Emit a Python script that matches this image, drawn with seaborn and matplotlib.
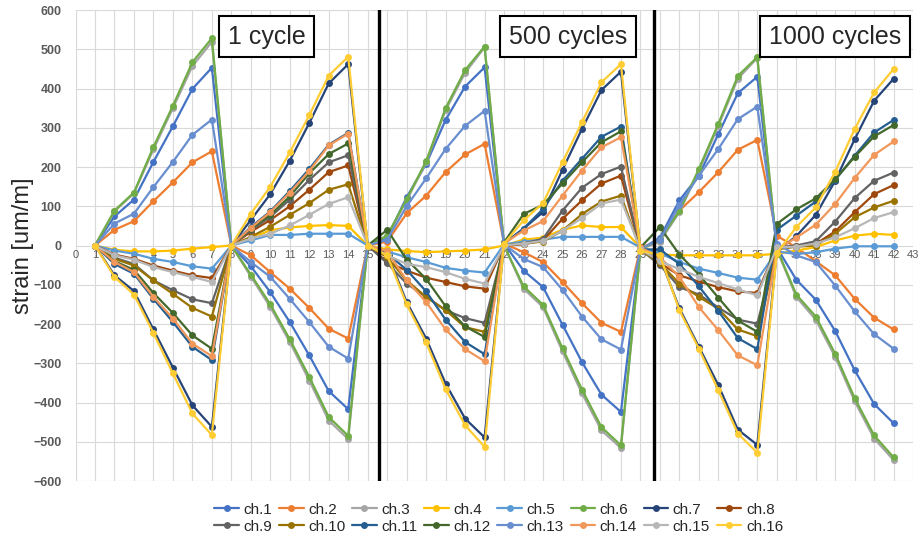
import numpy as np
import pandas as pd
import matplotlib
matplotlib.use("Agg")
import matplotlib.pyplot as plt
import seaborn as sns

# strain readings, one value per step 1..42 (three blocks: 1, 500, 1000 cycles)
steps = list(range(1, 43))

ch1 = [0, 74, 117, 213, 304, 399, 453, 0, -53, -119, -195, -280, -371, -417, 0,
       20, 123, 208, 320, 405, 454, 5, -64, -106, -202, -297, -380, -424, -10,
       20, 115, 178, 284, 388, 430, -5, -87, -138, -218, -318, -404, -453]
ch2 = [0, 40, 62, 113, 161, 212, 240, 0, -25, -68, -110, -159, -212, -237, 0,
       10, 82, 127, 187, 232, 259, 5, -17, -42, -93, -147, -197, -220, -5,
       12, 89, 136, 187, 244, 269, 25, -5, -40, -76, -136, -184, -214]
ch3 = [0, 87, 133, 245, 350, 457, 519, 0, -79, -157, -246, -344, -446, -493, 0,
       25, 115, 212, 345, 440, 505, 0, -110, -157, -270, -377, -471, -516, -10,
       10, 85, 190, 305, 425, 478, -10, -131, -189, -284, -397, -492, -547]
ch4 = [0, -11, -15, -15, -13, -8, -4, 0, 18, 39, 46, 50, 52, 50, 0,
       -10, -14, -17, -15, -13, -10, 0, 15, 20, 40, 51, 47, 47, -5,
       -23, -25, -25, -25, -25, -25, -21, -13, -4, 13, 25, 30, 27]
ch5 = [0, -13, -21, -34, -42, -53, -59, 0, 13, 27, 27, 30, 30, 30, 0,
       -15, -30, -42, -57, -64, -69, 3, 10, 15, 22, 22, 22, 22, -5,
       -20, -42, -59, -70, -82, -87, -15, -22, -17, -8, -2, -2, -2]
ch6 = [0, 89, 135, 251, 356, 467, 528, 0, -74, -150, -239, -335, -437, -485, 0,
       25, 118, 215, 350, 447, 507, 0, -104, -151, -262, -367, -463, -509, -10,
       15, 88, 195, 310, 432, 480, -8, -125, -181, -276, -389, -484, -540]
ch7 = [0, -76, -116, -214, -311, -407, -462, 0, 65, 131, 216, 312, 413, 462, 0,
       -20, -144, -237, -352, -441, -489, 5, 43, 85, 193, 297, 396, 443, -10,
       -30, -160, -258, -356, -469, -508, -15, 24, 78, 165, 271, 369, 425]
ch8 = [0, -23, -34, -51, -64, -76, -83, 0, 35, 65, 100, 142, 187, 204, 0,
       -42, -64, -82, -93, -104, -110, 0, 3, 13, 68, 115, 158, 178, -10,
       -45, -76, -92, -106, -117, -121, -5, -2, 4, 36, 85, 131, 154]
ch9 = [0, -31, -47, -89, -114, -137, -147, 0, 39, 73, 117, 167, 212, 230, 0,
       -45, -97, -131, -165, -185, -197, 0, 5, 17, 89, 147, 182, 201, -10,
       -50, -106, -125, -158, -189, -199, -5, 0, 11, 61, 121, 165, 186]
ch10 = [0, -34, -51, -89, -123, -159, -181, 0, 22, 48, 78, 108, 142, 156, 0,
        -30, -89, -131, -165, -208, -220, 0, 5, 10, 38, 80, 112, 127, -10,
        -45, -97, -131, -161, -214, -231, -10, -3, 0, 30, 72, 97, 114]
ch11 = [0, -47, -72, -136, -195, -258, -292, 0, 47, 87, 139, 195, 257, 287, 0,
        -20, -62, -117, -189, -246, -277, 5, 43, 93, 165, 221, 277, 303, -10,
        -10, -47, -104, -167, -236, -264, 40, 76, 112, 167, 229, 288, 320]
ch12 = [0, -40, -62, -121, -172, -229, -263, 0, 43, 78, 125, 184, 233, 260, 0,
        40, -36, -85, -155, -206, -233, 8, 80, 104, 158, 212, 263, 291, -5,
        47, -23, -74, -133, -191, -220, 55, 92, 120, 169, 226, 278, 307]
ch13 = [0, 56, 81, 149, 213, 282, 321, 0, -42, -80, -136, -195, -258, -288, 0,
        15, 100, 171, 246, 305, 343, 3, -34, -55, -113, -181, -239, -265, -8,
        15, 103, 178, 246, 322, 354, 5, -25, -42, -102, -168, -226, -263]
ch14 = [0, -42, -68, -131, -186, -250, -282, 0, 45, 85, 135, 190, 255, 285, 0,
        -15, -89, -144, -214, -264, -295, 5, 38, 62, 127, 191, 250, 276, -5,
        -30, -80, -157, -216, -280, -305, -10, 20, 53, 106, 172, 231, 265]
ch15 = [0, -25, -36, -55, -68, -80, -93, 0, 18, 30, 51, 78, 106, 123, 0,
        -25, -47, -55, -68, -85, -97, 0, 5, 12, 38, 70, 107, 117, -10,
        -40, -60, -80, -96, -112, -127, -5, -3, 5, 21, 44, 70, 85]
ch16 = [0, -80, -125, -223, -326, -428, -483, 0, 81, 150, 237, 332, 433, 481, 0,
        -25, -150, -247, -366, -458, -513, 5, 64, 108, 212, 314, 416, 462, -13,
        -25, -165, -263, -369, -479, -528, -20, 47, 97, 188, 297, 390, 450]

channels = ["ch.%d" % i for i in range(1, 17)]
series = [ch1, ch2, ch3, ch4, ch5, ch6, ch7, ch8,
          ch9, ch10, ch11, ch12, ch13, ch14, ch15, ch16]
colors = ["#4472C4", "#ED7D31", "#A5A5A5", "#FFC000", "#5B9BD5", "#70AD47",
          "#264478", "#9E480E", "#636363", "#997300", "#255E91", "#43682B",
          "#698ED0", "#F1975A", "#B7B7B7", "#FFCD33"]

block_labels = ["1 cycle", "500 cycles", "1000 cycles"]
block_label_x = [9.8, 25.3, 39.0]
block_dividers = [15.6, 29.7]

df = pd.concat([pd.DataFrame({"step": steps, "strain": s, "channel": c})
                for c, s in zip(channels, series)], ignore_index=True)

sns.set_style("white")
plt.rcParams["font.family"] = ["Liberation Sans", "DejaVu Sans"]

fig = plt.figure(figsize=(9.22, 5.41), dpi=100)
ax = fig.add_axes([0.0819, 0.1109, 0.9085, 0.8706])

sns.lineplot(data=df, x="step", y="strain", hue="channel", hue_order=channels,
             palette=colors, marker="o", markersize=5, markeredgewidth=0,
             linewidth=1.6, sort=False, estimator=None, ax=ax)

ax.set_xlim(0, 43)
ax.set_ylim(-600, 600)
ax.set_xticks(range(0, 44))
ax.set_yticks(range(-600, 601, 100))
ax.set_axisbelow(True)
ax.grid(True, color="#D9D9D9", linewidth=0.8)
for sp in ["top", "right", "left"]:
    ax.spines[sp].set_visible(False)
ax.spines["bottom"].set_position(("data", 0))
ax.spines["bottom"].set_visible(False)
ax.tick_params(axis="x", length=0, labelsize=8, labelcolor="#595959", pad=3)
ax.tick_params(axis="y", length=0, labelsize=9, labelcolor="#595959", pad=10)
for t in ax.get_yticklabels():
    t.set_fontweight("bold")
ax.set_xlabel("")
ax.set_ylabel("strain [um/m]", fontsize=17)
ax.yaxis.set_label_coords(-0.05, 0.5)

for xd in block_dividers:
    ax.axvline(xd, color="black", linewidth=2.4, zorder=5)

for lbl, xc in zip(block_labels, block_label_x):
    ax.text(xc, 532, lbl, fontsize=18, ha="center", va="center", zorder=6,
            bbox=dict(boxstyle="square,pad=0.35", facecolor="white",
                      edgecolor="black", linewidth=1.5))

handles, labels = ax.get_legend_handles_labels()
ax.get_legend().remove()
order = []
for i in range(8):
    order += [i, i + 8]
fig.legend([handles[i] for i in order], [labels[i] for i in order],
           loc="lower center", bbox_to_anchor=(0.541, -0.012), ncol=8,
           frameon=False, fontsize=11, handlelength=1.6, handletextpad=0.3,
           columnspacing=0.45, labelspacing=0.2)

fig.savefig("out.png", dpi=100)
